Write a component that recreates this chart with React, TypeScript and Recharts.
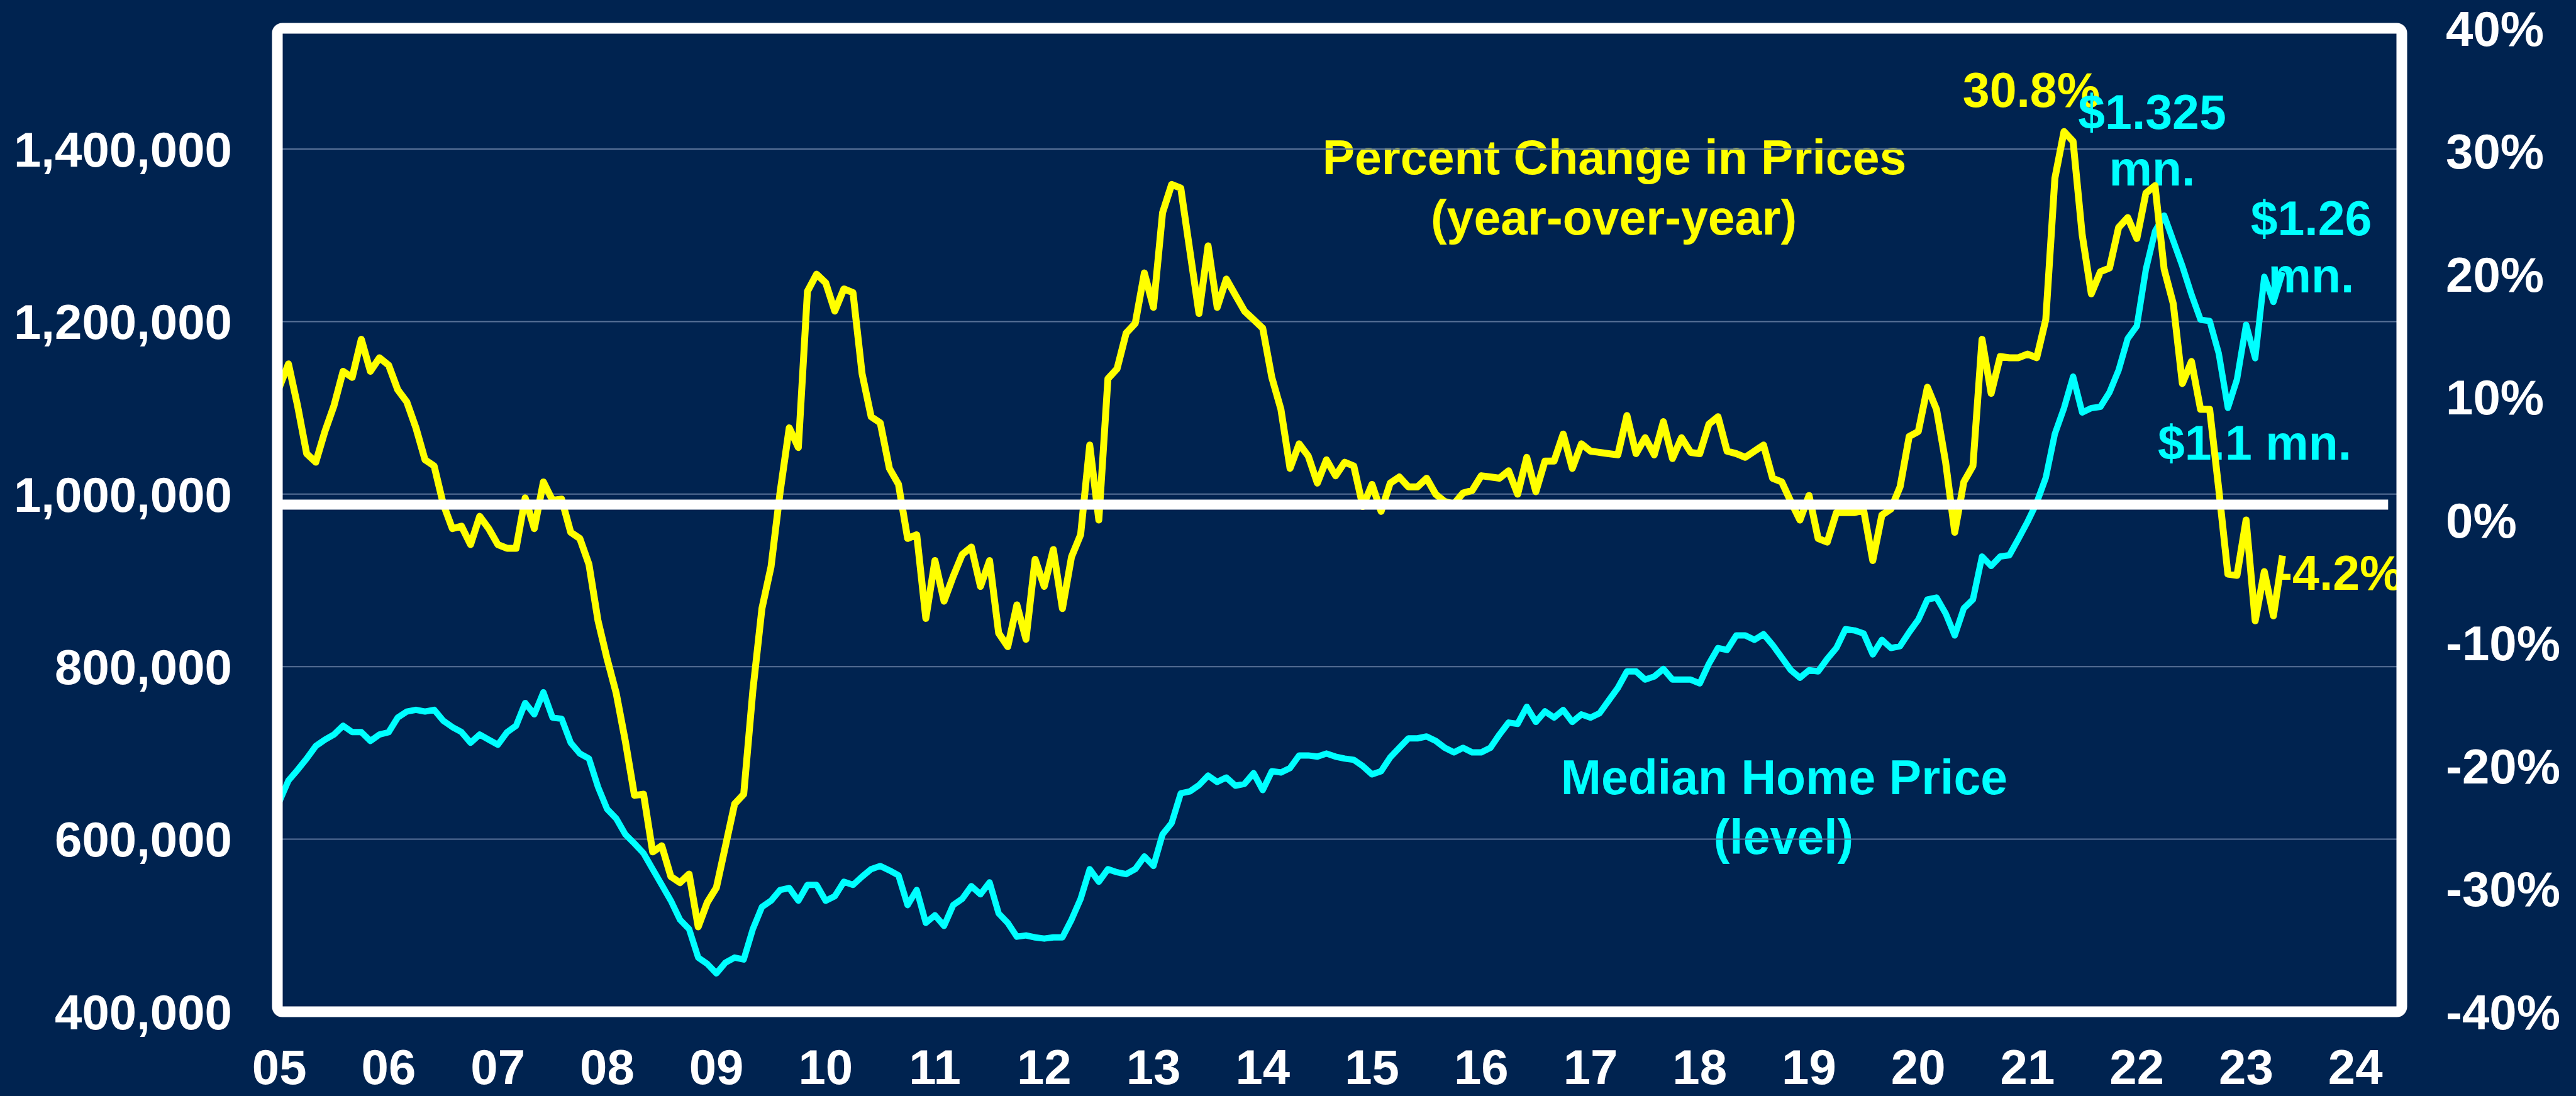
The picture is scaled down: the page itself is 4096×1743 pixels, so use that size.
import React from "react";
import { LineChart, Line, XAxis, YAxis, CartesianGrid, ReferenceLine } from "recharts";

// ── Data (monthly, Jan 2005 – May 2023) ──────────────────────────────────────
const yearLabels = [
  "05", "06", "07", "08", "09", "10", "11", "12", "13", "14",
  "15", "16", "17", "18", "19", "20", "21", "22", "23", "24",
];

// year-over-year % change in median price (right axis)
const pctChange = [
  10.8, 12.7, 9.3, 5.4, 4.7, 7.2, 9.3, 12.1, 11.6, 14.7, 12.1, 13.2,
  12.6, 10.6, 9.6, 7.5, 4.9, 4.4, 1.3, -0.7, -0.5, -2.0, 0.3, -0.7,
  -2.0, -2.3, -2.3, 1.8, -0.7, 3.1, 1.6, 1.7, -1.0, -1.5, -3.6, -8.2,
  -11.3, -14.1, -18.0, -22.4, -22.3, -27.0, -26.5, -29.0, -29.5, -28.8, -33.1, -31.1,
  -29.9, -26.5, -23.1, -22.3, -13.9, -7.2, -3.8, 2.3, 7.5, 5.9, 18.6, 20.0,
  19.3, 17.0, 18.8, 18.5, 11.9, 8.4, 7.9, 4.2, 2.9, -1.5, -1.2, -8.0,
  -3.3, -6.6, -4.6, -2.8, -2.2, -5.4, -3.3, -9.2, -10.3, -6.9, -9.7, -3.2,
  -5.4, -2.4, -7.2, -3.0, -1.2, 6.1, 0.0, 11.5, 12.3, 15.2, 16.0, 20.1,
  17.3, 25.0, 27.3, 27.0, 21.9, 16.8, 22.3, 17.3, 19.6, 18.3, 17.0, 16.3,
  15.6, 11.6, 9.0, 4.2, 6.2, 5.2, 3.0, 4.9, 3.6, 4.7, 4.4, 1.1,
  2.9, 0.7, 3.0, 3.5, 2.7, 2.7, 3.4, 2.1, 1.5, 1.3, 2.2, 2.4,
  3.6, 3.5, 3.4, 4.0, 2.1, 5.1, 2.3, 4.8, 4.8, 7.0, 4.2, 6.2,
  5.6, 5.5, 5.4, 5.3, 8.5, 5.4, 6.7, 5.3, 8.0, 5.0, 6.7, 5.5,
  5.4, 7.8, 8.4, 5.6, 5.4, 5.1, 5.6, 6.1, 3.4, 3.1, 1.5, 0.0,
  2.0, -1.5, -1.8, 0.6, 0.6, 0.6, 0.8, -3.3, 0.4, 0.9, 2.7, 6.8,
  7.2, 10.8, 9.0, 4.7, -1.0, 3.1, 4.4, 14.7, 10.3, 13.3, 13.2, 13.2,
  13.5, 13.2, 16.3, 27.8, 31.6, 30.8, 23.2, 18.4, 20.2, 20.5, 23.8, 24.6,
  22.9, 26.6, 27.2, 20.4, 17.6, 11.1, 12.9, 9.0, 9.0, 2.5, -4.4, -4.5,
  0.0, -8.2, -4.2, -7.8, -2.9,
];

// median home price, $ (left axis)
const medianPrice = [
  643700, 668000, 680300, 693500, 708000, 715400, 721300, 731600, 724200, 724200, 713900, 721300,
  724000, 741000, 748000, 750000, 748000, 750000, 737400, 730000, 724200, 711800, 721300, 715400,
  709500, 724000, 731600, 757900, 744700, 770400, 741000, 739600, 711800, 699300, 693500, 660500,
  634900, 623900, 605600, 595000, 583700, 565300, 547000, 528700, 506700, 495800, 462800, 455500,
  444500, 457000, 462800, 460600, 495800, 521400, 528700, 541200, 543400, 528700, 547000, 547000,
  528700, 533900, 550700, 547000, 556600, 565300, 569000, 563900, 558000, 523600, 541200, 503000,
  511900, 499500, 523600, 530900, 545600, 536100, 550000, 514000, 503000, 487000, 488500, 486200,
  484800, 486200, 486200, 506700, 530900, 565300, 550700, 565300, 561700, 559500, 565300, 580000,
  569000, 605600, 618800, 653200, 655400, 662700, 673700, 666400, 671500, 662000, 664200, 676600,
  656900, 678800, 677400, 682500, 697100, 697100, 695700, 699300, 695700, 693500, 692000, 684700,
  675200, 678800, 694900, 705900, 716900, 716900, 719100, 714000, 705900, 700700, 705900, 700700,
  700700, 705900, 721300, 735200, 733700, 753500, 735900, 748200, 741000, 749800, 735900, 744700,
  741000, 746100, 760800, 775400, 794500, 794500, 785000, 788600, 797400, 785000, 785000, 785000,
  780600, 803300, 821600, 819400, 836200, 836200, 831100, 837700, 825200, 810600, 796000, 787200,
  796000, 794500, 809100, 821600, 843500, 842000, 838400, 814200, 831100, 821600, 823800, 839900,
  854500, 877900, 880100, 861800, 836200, 867700, 877900, 927700, 916700, 927700, 929200, 948200,
  968000, 990000, 1019000, 1070000, 1099700, 1136300, 1094600, 1099700, 1101200, 1118000, 1143700, 1180300,
  1194900, 1260800, 1304700, 1323000, 1293700, 1264400, 1231500, 1202200, 1200700, 1163000, 1100000, 1133000,
  1196400, 1157500, 1252000, 1222700, 1257400,
];

const priceTicks = [400000, 600000, 800000, 1000000, 1200000, 1400000];
const pctTicks = [-40, -30, -20, -10, 0, 10, 20, 30, 40];
const yearTicks = yearLabels.map((_, i) => i * 12);
const ruleLevel = 1.25; // white horizontal rule, % axis

const data = pctChange.map((pct, k) => ({ k, pct, price: medianPrice[k] }));

// ── Layout ───────────────────────────────────────────────────────────────────
const W = 4096;
const H = 1743;
const PLOT_L = 441;
const PLOT_R = 3819;
const PLOT_T = 45;
const PLOT_B = 1609;

const BG = "#002350";
const YELLOW = "#FFFF00";
const CYAN = "#00FFFF";
const FONT = "'Liberation Sans', Arial, Helvetica, sans-serif";

const tickStyle = { fill: "#FFFFFF", fontSize: 78, fontWeight: 700, fontFamily: FONT };

const notes = [
  { text: "Percent Change in Prices", x: 2567, y: 277, color: YELLOW },
  { text: "(year-over-year)", x: 2566, y: 373, color: YELLOW },
  { text: "Median Home Price", x: 2837, y: 1263, color: CYAN },
  { text: "(level)", x: 2836, y: 1358, color: CYAN },
  { text: "30.8%", x: 3230, y: 170, color: YELLOW },
  { text: "$1.325", x: 3422, y: 205, color: CYAN },
  { text: "mn.", x: 3422, y: 295, color: CYAN },
  { text: "$1.26", x: 3675, y: 374, color: CYAN },
  { text: "mn.", x: 3675, y: 465, color: CYAN },
  { text: "$1.1 mn.", x: 3585, y: 731, color: CYAN },
  { text: "-4.2%", x: 3720, y: 938, color: YELLOW },
];

export default function App() {
  return (
    <div style={{ position: "relative", width: W, height: H, background: BG, overflow: "hidden" }}>
      <style>{"body{margin:0}"}</style>

      {/* annotations sit under the lines */}
      <svg width={W} height={H} style={{ position: "absolute", left: 0, top: 0 }}>
        {notes.map((n, i) => (
          <text
            key={i}
            x={n.x}
            y={n.y}
            textAnchor="middle"
            fill={n.color}
            fontSize={77}
            fontWeight={700}
            fontFamily={FONT}
          >
            {n.text}
          </text>
        ))}
      </svg>

      <div style={{ position: "absolute", left: 0, top: 0 }}>
        <LineChart width={W} height={H} data={data} margin={{ top: PLOT_T, right: 0, bottom: 0, left: 0 }}>
          <CartesianGrid yAxisId="left" vertical={false} stroke="#5a7399" strokeWidth={2} />
          <XAxis
            dataKey="k"
            type="number"
            domain={[-0.22, 233.1]}
            ticks={yearTicks}
            interval={0}
            allowDataOverflow
            tickFormatter={(k: number) => yearLabels[Math.round(k / 12)]}
            height={H - PLOT_B}
            axisLine={false}
            tickLine={false}
            tickSize={0}
            tickMargin={60}
            tick={tickStyle}
          />
          <YAxis
            yAxisId="left"
            domain={[400000, 1540000]}
            ticks={priceTicks}
            interval={0}
            allowDataOverflow
            tickFormatter={(v: number) => v.toLocaleString("en-US")}
            width={PLOT_L}
            axisLine={false}
            tickLine={false}
            tickSize={0}
            tickMargin={72}
            tick={tickStyle}
          />
          <YAxis
            yAxisId="right"
            orientation="right"
            domain={[-40, 40]}
            ticks={pctTicks}
            interval={0}
            allowDataOverflow
            tickFormatter={(v: number) => `${v}%`}
            width={W - PLOT_R}
            axisLine={false}
            tickLine={false}
            tickSize={0}
            tickMargin={70}
            tick={tickStyle}
          />
          <Line
            yAxisId="left"
            dataKey="price"
            type="linear"
            stroke={CYAN}
            strokeWidth={10}
            strokeLinejoin="round"
            dot={false}
            activeDot={false}
            isAnimationActive={false}
          />
          <Line
            yAxisId="right"
            dataKey="pct"
            type="linear"
            stroke={YELLOW}
            strokeWidth={11}
            strokeLinejoin="round"
            dot={false}
            activeDot={false}
            isAnimationActive={false}
          />
          <ReferenceLine
            yAxisId="right"
            segment={[
              { x: -0.22, y: ruleLevel },
              { x: 231.6, y: ruleLevel },
            ]}
            stroke="#FFFFFF"
            strokeWidth={16}
          />
        </LineChart>
      </div>

      {/* white frame around plot area */}
      <svg width={W} height={H} style={{ position: "absolute", left: 0, top: 0, pointerEvents: "none" }}>
        <rect
          x={PLOT_L}
          y={PLOT_T}
          width={PLOT_R - PLOT_L}
          height={PLOT_B - PLOT_T}
          rx={8}
          fill="none"
          stroke="#FFFFFF"
          strokeWidth={17}
        />
      </svg>
    </div>
  );
}
